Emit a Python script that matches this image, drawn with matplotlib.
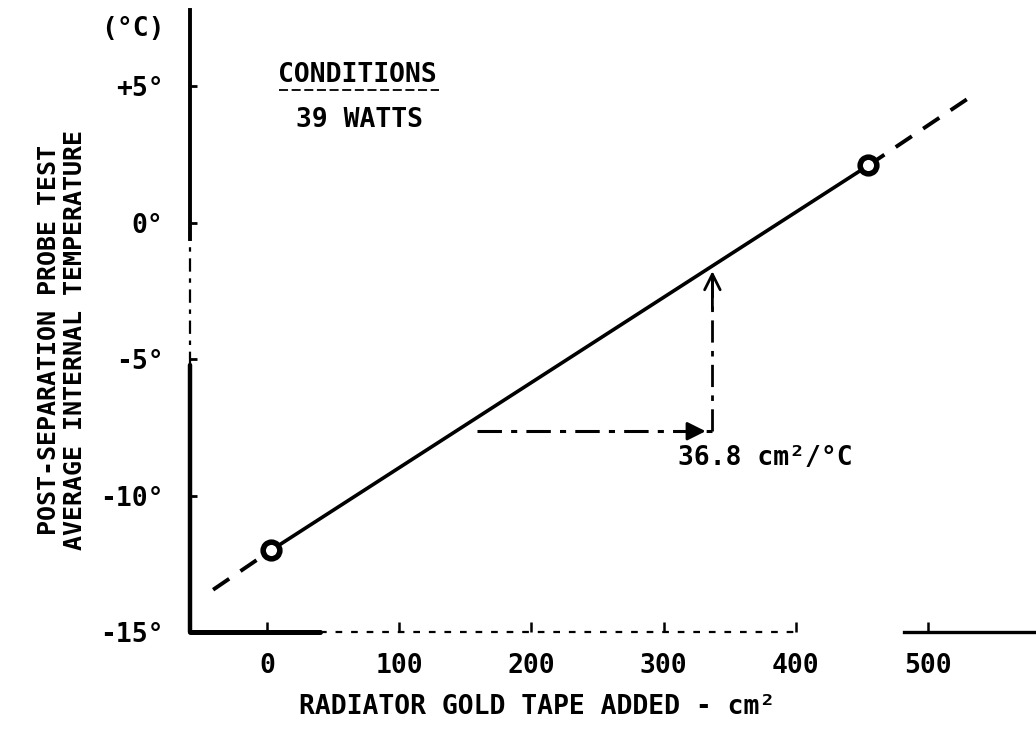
import matplotlib
matplotlib.use('Agg')
import matplotlib.pyplot as plt

# values
tape_cm2 = [3, 455]
temp_c = [-12.0, 2.1]
ext_low_x = [-41, 3]
ext_low_y = [-13.45, -12.0]
ext_high_x = [455, 535]
ext_high_y = [2.1, 4.7]

# slope construction (arrows)
run_x = [159, 337]
run_y = [-7.64, -7.64]
rise_x = [337, 337]
rise_y = [-7.64, -1.67]

x_ticks = [0, 100, 200, 300, 400, 500]
x_labels = ['0', '100', '200', '300', '400', '500']
y_ticks = [-15, -10, -5, 0, 5]
y_labels = ['-15°', '-10°', '-5°', '0°', '+5°']

plt.rcParams['font.family'] = ['DejaVu Sans Mono']
plt.rcParams['font.weight'] = 'bold'

fig = plt.figure(figsize=(10.36, 7.32), dpi=100)
ax = fig.add_axes([190 / 1036, 100 / 732, 846 / 1036, 622 / 732])
ax.set_xlim(-58.5, 582)
ax.set_ylim(-15, 7.8)

for s in ax.spines.values():
    s.set_visible(False)

# hand-drawn looking axes
ax.plot([-58.5, -58.5], [-15, -5.2], color='black', lw=3.2, clip_on=False, solid_capstyle='round')
ax.plot([-58.5, -58.5], [-5.2, -0.6], color='black', lw=1.6, ls=(0, (6, 3, 2, 3)), clip_on=False)
ax.plot([-58.5, -58.5], [-0.6, 7.8], color='black', lw=2.8, clip_on=False)
ax.plot([-58.5, 40], [-15, -15], color='black', lw=3.6, clip_on=False, solid_capstyle='round')
ax.plot([40, 400], [-15, -15], color='black', lw=1.6, ls=(0, (3, 4)), clip_on=False)
ax.plot([482, 582], [-15, -15], color='black', lw=2.4, clip_on=False)

# fitted line, dashed extensions and the two test points
ax.plot(ext_low_x, ext_low_y, color='black', lw=2.8, ls=(0, (5, 3.5)))
ax.plot(ext_high_x, ext_high_y, color='black', lw=2.8, ls=(0, (5, 3.5)))
ax.plot(tape_cm2, temp_c, color='black', lw=2.6, marker='o', ms=12,
        mfc='white', mec='black', mew=4, zorder=3)

# slope arrows
ax.plot(run_x, run_y, color='black', lw=2.2, ls=(0, (8, 3, 2, 3)))
ax.annotate('', xy=(run_x[1] - 3, run_y[1]), xytext=(run_x[1] - 20, run_y[1]),
            arrowprops=dict(arrowstyle='-|>', color='black', lw=2, mutation_scale=28))
ax.plot(rise_x, rise_y, color='black', lw=2.0, ls=(0, (8, 3, 2, 3)))
ax.annotate('', xy=(rise_x[1], rise_y[1]), xytext=(rise_x[1], rise_y[1] - 1.6),
            arrowprops=dict(arrowstyle='->', color='black', lw=2, mutation_scale=28))
ax.text(377, -8.63, '36.8 cm²/°C', fontsize=19, ha='center', va='center')

# conditions box
ax.text(68, 5.4, 'CONDITIONS', fontsize=19, ha='center', va='center')
ax.plot([9, 130], [4.85, 4.85], color='black', lw=1.3, ls=(0, (5, 2)))
ax.text(70, 3.75, '39 WATTS', fontsize=19, ha='center', va='center')

ax.set_xticks(x_ticks)
ax.set_xticklabels(x_labels, fontsize=19)
ax.set_yticks(y_ticks)
ax.set_yticklabels(y_labels, fontsize=19)
ax.tick_params(axis='x', direction='in', length=7, width=1.8, pad=15)
ax.tick_params(axis='y', direction='in', length=5, width=2, pad=19)

fig.text(133 / 1036, 1 - 29 / 732, '(°C)', fontsize=19, ha='center', va='center')
fig.text(537 / 1036, 1 - 707 / 732, 'RADIATOR GOLD TAPE ADDED - cm²', fontsize=19,
         ha='center', va='center')
fig.text(62 / 1036, 1 - 340 / 732, 'POST-SEPARATION PROBE TEST\nAVERAGE INTERNAL TEMPERATURE',
         fontsize=18, rotation=90, ha='center', va='center', linespacing=1.15)

fig.savefig('out.png', dpi=100)
